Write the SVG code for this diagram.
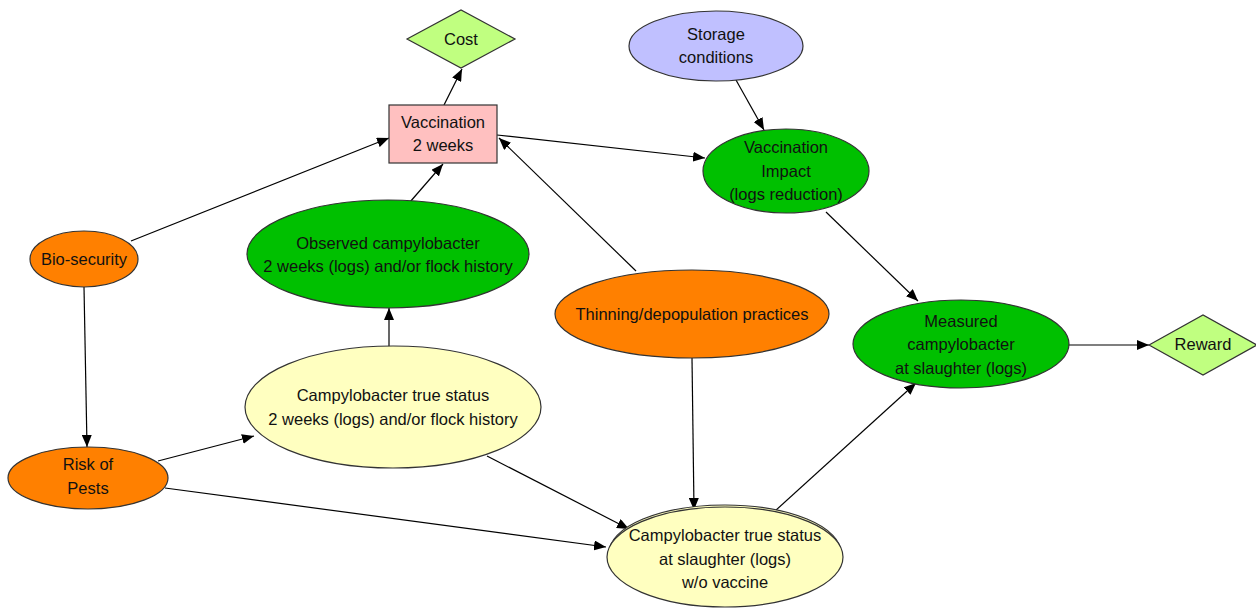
<svg xmlns="http://www.w3.org/2000/svg" width="1256" height="608" viewBox="0 0 1256 608">
<defs>
<marker id="arr" viewBox="0 0 12 10" refX="12" refY="5" markerWidth="12" markerHeight="10" markerUnits="userSpaceOnUse" orient="auto">
<path d="M0,0 L12,5 L0,10 z" fill="#000"/>
</marker>
</defs>
<style>
text{font-family:"Liberation Sans",Arial,sans-serif;font-size:16.5px;fill:#111;text-anchor:middle;dominant-baseline:central}
.n{stroke:#333;stroke-width:1.2}
.orange{fill:#ff8000}
.green{fill:#00c000}
.yellow{fill:#ffffc0}
.lav{fill:#c0c0ff}
.pink{fill:#ffc0c0}
.dia{fill:#c0ff80}
#edges line{stroke:#000;stroke-width:1.2;marker-end:url(#arr)}
</style>
<rect width="1256" height="608" fill="#fff"/>
<g id="edges">
<line x1="444" y1="105" x2="462" y2="69"/>
<line x1="131" y1="241" x2="389" y2="138"/>
<line x1="410" y1="202" x2="443" y2="164"/>
<line x1="636" y1="271" x2="499" y2="138"/>
<line x1="497" y1="135" x2="705" y2="158"/>
<line x1="736" y1="80" x2="764" y2="130"/>
<line x1="826" y1="212" x2="918" y2="301"/>
<line x1="1068" y1="345" x2="1149" y2="345"/>
<line x1="84" y1="287" x2="87" y2="447"/>
<line x1="158" y1="461" x2="254" y2="436"/>
<line x1="389" y1="347" x2="389" y2="308"/>
<line x1="165" y1="488" x2="606" y2="547"/>
<line x1="487" y1="456" x2="629" y2="529"/>
<line x1="692" y1="358" x2="694" y2="510"/>
<line x1="775" y1="511" x2="916" y2="383"/>
</g>
<g id="cost">
<polygon class="n dia" points="407,39 461,10 515,39 461,68"/>
<text x="461" y="39">Cost</text>
</g>
<g id="vaccination">
<rect class="n pink" x="389" y="105" width="108" height="58"/>
<text x="443" y="122">Vaccination</text>
<text x="443" y="145">2 weeks</text>
</g>
<g id="storage">
<ellipse class="n lav" cx="716" cy="46" rx="87" ry="35"/>
<text x="716" y="34">Storage</text>
<text x="716" y="57">conditions</text>
</g>
<g id="impact">
<ellipse class="n green" cx="786" cy="171" rx="83" ry="42"/>
<text x="786" y="147">Vaccination</text>
<text x="786" y="171">Impact</text>
<text x="786" y="194">(logs reduction)</text>
</g>
<g id="biosecurity">
<ellipse class="n orange" cx="84" cy="259" rx="54" ry="28"/>
<text x="84" y="259">Bio-security</text>
</g>
<g id="observed">
<ellipse class="n green" cx="388" cy="254" rx="141" ry="54"/>
<text x="388" y="243">Observed campylobacter</text>
<text x="388" y="266">2 weeks (logs) and/or flock history</text>
</g>
<g id="thinning">
<ellipse class="n orange" cx="692" cy="314" rx="137" ry="44"/>
<text x="692" y="314">Thinning/depopulation practices</text>
</g>
<g id="measured">
<ellipse class="n green" cx="961" cy="344" rx="108" ry="44"/>
<text x="961" y="321">Measured</text>
<text x="961" y="344">campylobacter</text>
<text x="961" y="368">at slaughter (logs)</text>
</g>
<g id="reward">
<polygon class="n dia" points="1149,345 1203,315 1257,345 1203,375"/>
<text x="1203" y="344">Reward</text>
</g>
<g id="truestatus2w">
<ellipse class="n yellow" cx="393" cy="407" rx="148" ry="61"/>
<text x="393" y="395">Campylobacter true status</text>
<text x="393" y="419">2 weeks (logs) and/or flock history</text>
</g>
<g id="risk">
<ellipse class="n orange" cx="88" cy="478" rx="80" ry="31"/>
<text x="88" y="464">Risk of</text>
<text x="88" y="488">Pests</text>
</g>
<g id="truestatusslaughter">
<ellipse class="n yellow" cx="725" cy="553" rx="116" ry="48"/>
<ellipse class="n yellow" cx="725" cy="557" rx="118" ry="50"/>
<text x="725" y="535">Campylobacter true status</text>
<text x="725" y="559">at slaughter (logs)</text>
<text x="725" y="582">w/o vaccine</text>
</g>
</svg>
